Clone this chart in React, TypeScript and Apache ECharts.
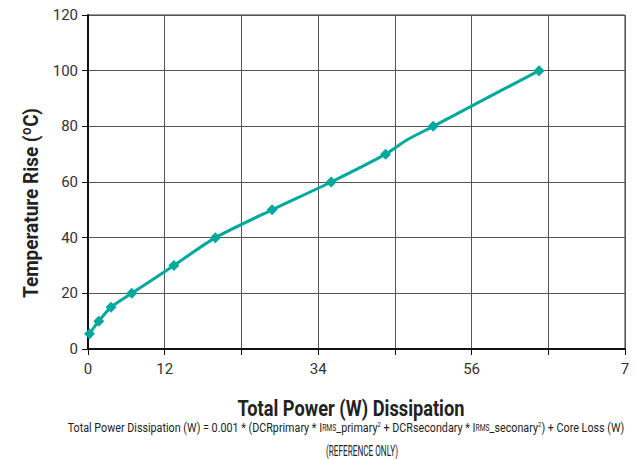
import React, { useEffect, useRef } from "react";
import * as echarts from "echarts";

const powerW = [0.02, 0.14, 0.3, 0.57, 1.12, 1.66, 2.4, 3.17, 3.88, 4.5, 5.88];
const tempRise = [5.5, 10, 15, 20, 30, 40, 50, 60, 70, 80, 100];
const extraPower = [4.15, 4.98];
const extraTemp = [75, 87];
const xTickLabels = ["0", "12", "", "34", "", "56", "", "7"];
const yTicks = [0, 20, 40, 60, 80, 100, 120];

const FONT = "Roboto, sans-serif";
const TEAL = "#00A99D";

const ctx = document.createElement("canvas").getContext("2d") as CanvasRenderingContext2D;
function tw(text: string, size: number, weight = "normal") {
  ctx.font = `${weight} ${size}px ${FONT}`;
  return ctx.measureText(text).width;
}

export default function App() {
  const ref = useRef<HTMLDivElement>(null);
  useEffect(() => {
    if (!ref.current) return;
    const chart = echarts.init(ref.current, undefined, { renderer: "svg" });
    const pts: { value: number[]; symbol: string }[] = [];
    powerW.forEach((x, i) => pts.push({ value: [x, tempRise[i]], symbol: "diamond" }));
    extraPower.forEach((x, i) => pts.push({ value: [x, extraTemp[i]], symbol: "none" }));
    pts.sort((a, b) => a.value[0] - b.value[0]);

    const yTitle = "Temperature Rise (ºC)";
    const xTitle = "Total Power (W) Dissipation";
    const refText = "(REFERENCE ONLY)";
    const fnA = 13.5, fnS = 8.5, fnP = 7.5;
    const segs: [string, string][] = [
      ["a", "Total Power Dissipation (W) = 0.001 * (DCRprimary * I"],
      ["s", "RMS"],
      ["a", "_primary"],
      ["p", "2"],
      ["a", " + DCRsecondary * I"],
      ["s", "RMS"],
      ["a", "_seconary"],
      ["p", "2"],
      ["a", ") + Core Loss (W)"],
    ];
    const sz: Record<string, number> = { a: fnA, s: fnS, p: fnP };
    const fnWidth = segs.reduce((s, [k, t]) => s + tw(t, sz[k]), 0);
    const fnText = segs.map(([k, t]) => `{${k}|${t}}`).join("");

    chart.setOption({
      animation: false,
      backgroundColor: "#ffffff",
      grid: { left: 88, right: 12, top: 15, bottom: 110, show: true, borderColor: "#333", borderWidth: 1 },
      xAxis: {
        type: "value",
        min: 0,
        max: 7,
        interval: 1,
        axisLine: { show: true, onZero: false, lineStyle: { color: "#111", width: 2 } },
        axisTick: { show: true, length: 6, lineStyle: { color: "#111", width: 1 } },
        axisLabel: {
          margin: 12,
          fontFamily: FONT,
          fontSize: 15,
          color: "#333",
          formatter: (v: number) => xTickLabels[Math.round(v)] ?? "",
        },
        splitLine: { show: true, lineStyle: { color: "#555", width: 1 } },
      },
      yAxis: {
        type: "value",
        min: yTicks[0],
        max: yTicks[yTicks.length - 1],
        interval: 20,
        axisLine: { show: true, lineStyle: { color: "#111", width: 2 } },
        axisTick: { show: true, length: 6, lineStyle: { color: "#111", width: 1 } },
        axisLabel: { margin: 10, fontFamily: FONT, fontSize: 15, color: "#333" },
        splitLine: { show: true, lineStyle: { color: "#555", width: 1 } },
      },
      series: [
        {
          type: "line",
          data: pts,
          smooth: 0.25,
          symbolSize: 11,
          lineStyle: { color: TEAL, width: 3 },
          itemStyle: { color: TEAL },
        },
      ],
      graphic: [
        {
          type: "text",
          x: 31,
          y: 203,
          rotation: Math.PI / 2,
          scaleX: 190 / tw(yTitle, 21, "bold"),
          style: {
            text: yTitle,
            fontFamily: FONT,
            fontWeight: "bold",
            fontSize: 21,
            fill: "#222",
            align: "center",
            verticalAlign: "middle",
          },
        },
        {
          type: "text",
          x: 351,
          y: 408,
          scaleX: 227 / tw(xTitle, 22, "bold"),
          style: {
            text: xTitle,
            fontFamily: FONT,
            fontWeight: "bold",
            fontSize: 22,
            fill: "#222",
            align: "center",
            verticalAlign: "middle",
          },
        },
        {
          type: "text",
          x: 346,
          y: 428,
          scaleX: 557 / fnWidth,
          style: {
            text: fnText,
            align: "center",
            verticalAlign: "middle",
            rich: {
              a: { fontFamily: FONT, fontSize: fnA, fill: "#222" },
              s: { fontFamily: FONT, fontSize: fnS, fill: "#222" },
              p: { fontFamily: FONT, fontSize: fnP, fill: "#222", verticalAlign: "top", padding: [0, 0, 7, 0] },
            },
          },
        },
        {
          type: "text",
          x: 362,
          y: 451,
          scaleX: 72 / tw(refText, 14.5),
          style: {
            text: refText,
            fontFamily: FONT,
            fontSize: 14.5,
            fill: "#222",
            align: "center",
            verticalAlign: "middle",
          },
        },
      ],
    });
    return () => chart.dispose();
  }, []);
  return <div ref={ref} style={{ position: "absolute", left: 0, top: 0, width: 637, height: 459 }} />;
}
